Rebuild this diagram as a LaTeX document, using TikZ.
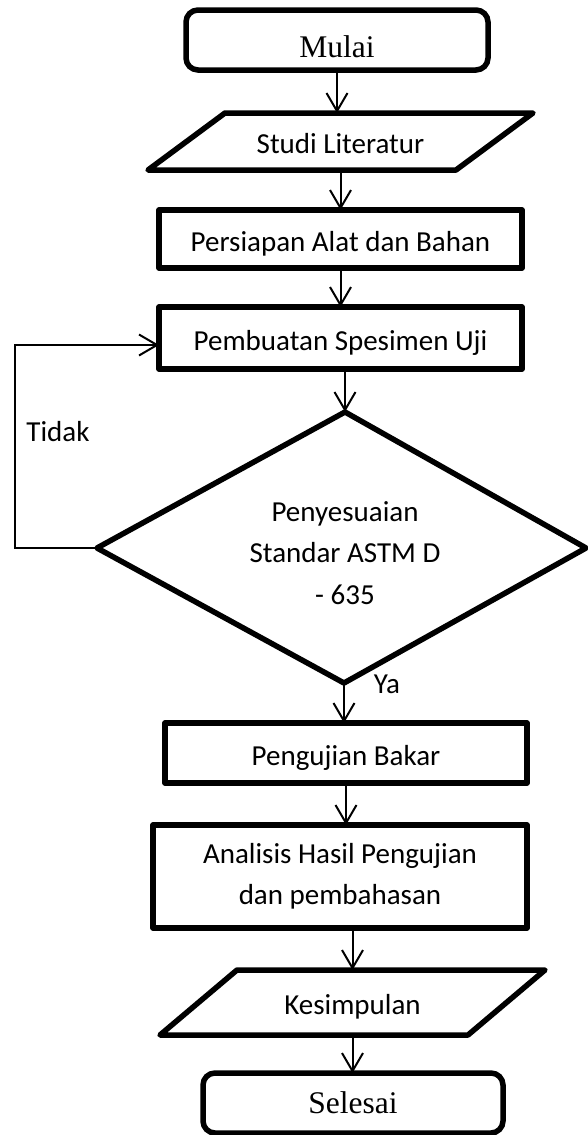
\documentclass[tikz,border=0pt]{standalone}
\usepackage{fontspec}
\setmainfont{Carlito}
\newfontfamily\serifface{Liberation Serif}
\usetikzlibrary{calc,arrows.meta}

\begin{document}
\begin{tikzpicture}[
                x=1pt,y=-1pt,
                every node/.style={inner sep=0pt,outer sep=0pt,align=center,
                    font=\fontsize{29}{41.5}\selectfont},
                boxtext/.style={text height=25pt,text depth=1pt},
                terminal/.style={draw,line width=5.5pt,rounded corners=12pt,
                    font=\serifface\fontsize{31.5}{38}\selectfont},
                process/.style={draw,line width=5.5pt,line join=round},
                outline/.style={line width=5.5pt,line join=round},
                flow/.style={line width=2pt,-{Straight Barb[length=18pt,width=21pt]}}
            ]
                \useasboundingbox (0,0) rectangle (587,1135);

                \node[terminal,minimum width=302pt,minimum height=60pt,
                    text height=37pt,text depth=2pt] (mulai) at (337,40) {Mulai};
                \node[boxtext,minimum width=308pt,minimum height=57pt] (studi) at (340.5,141.5) {Studi Literatur};
                \node[process,boxtext,minimum width=363pt,minimum height=58pt] (persiapan) at (340.5,239) {Persiapan Alat dan Bahan};
                \node[process,boxtext,minimum width=363pt,minimum height=62pt] (pembuatan) at (340.5,338) {Pembuatan Spesimen Uji};

                \coordinate (dtop)   at (345,412);
                \coordinate (dleft)  at (97,548);
                \coordinate (dright) at (586,548);
                \coordinate (dbot)   at (344,683);
                \draw[outline] (dtop) -- (dright) -- (dbot) -- (dleft) -- cycle;
                \node (cek) at (345,553) {Penyesuaian\\Standar ASTM D\\- 635};

                \node[process,boxtext,minimum width=362pt,minimum height=60pt] (pengujian) at (346,753) {Pengujian Bakar};
                \node[process,minimum width=374pt,minimum height=103pt] (analisis) at (340,876.5)
                    {Analisis Hasil Pengujian\\dan pembahasan};
                \node[boxtext,minimum width=308pt,minimum height=65pt] (kesimpulan) at (352.5,1002.5) {Kesimpulan};
                \node[terminal,minimum width=300pt,minimum height=60pt] (selesai) at (353,1103) {Selesai};

                \foreach \io in {studi,kesimpulan}
                    \draw[outline] ($(\io.north west)+(38.5,0)$) -- ($(\io.north east)+(38.5,0)$)
                        -- ($(\io.south east)+(-38.5,0)$) -- ($(\io.south west)+(-38.5,0)$) -- cycle;

                \node (ya)    at (387,684) {Ya};
                \node (tidak) at (58,432)  {Tidak};
                \coordinate (balik) at (15,345);

                \draw[flow] (mulai.south) -- (mulai.south |- studi.north);
                \draw[flow] (studi.south) -- (persiapan.north);
                \draw[flow] (persiapan.south) -- (pembuatan.north);
                \draw[flow] (pembuatan.south -| dtop) -- (dtop);
                \draw[flow] (dbot) -- (dbot |- pengujian.north);
                \draw[flow] (pengujian.south) -- (pengujian.south |- analisis.north);
                \draw[flow] (kesimpulan.north |- analisis.south) -- (kesimpulan.north);
                \draw[flow] (kesimpulan.south) -- (kesimpulan.south |- selesai.north);
                \draw[flow] (dleft) -| (balik) -- (balik -| pembuatan.west);
            \end{tikzpicture}
\end{document}
